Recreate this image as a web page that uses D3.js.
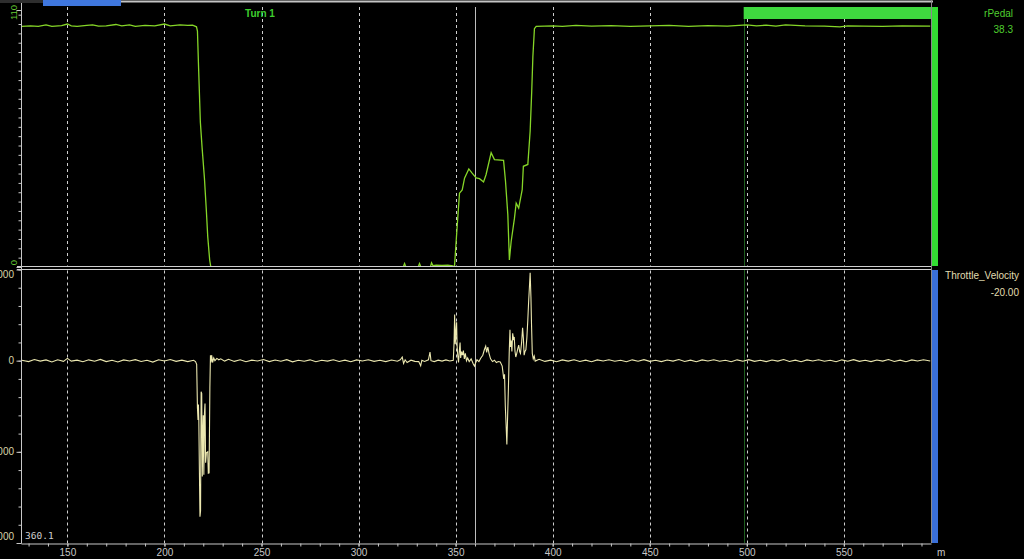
<!DOCTYPE html>
<html><head><meta charset="utf-8">
<script src="https://cdn.jsdelivr.net/npm/d3@7"></script>
<style>html,body{margin:0;padding:0;background:#000;overflow:hidden}</style>
</head><body><svg id="c" width="1024" height="559"></svg>
<script>
// ---- data ----
const xDomain = [126.1, 594.9];
const xMajorTicks = [150, 200, 250, 300, 350, 400, 450, 500, 550];
const xMinorTicks = d3.range(130, 595, 10);
const pedalDomain = [0, 110];
const pedalTickLabels = ["0", "110"];
const velDomain = [-2000, 1000];
const velTickValues = [1000, 0, -1000, -2000];
const velTickLabels = ["1000", "0", "-1000", "-2000"];
const cursorDistance = 360.1;
const turnStart = 498.4;
const turnLabel = "Turn 1";
const pedalName = "rPedal", pedalValue = "38.3";
const velName = "Throttle_Velocity", velValue = "-20.00";
const unitLabel = "m";

// rPedal [distance, value]
const pedal = [
 [126.5,103],[131,103.2],[135,103],[139,103.6],[142,103],[147,103.3],[150,104],[152,103.2],[155,103],[160,103.4],
 [163,103.6],[166,103.1],[170,103.2],[175,103.8],[178,103.2],[182,103.6],[185,103],[190,103.4],[195,103.2],[200,104],
 [203,103.2],[208,103.6],[212,103.4],[214.5,103.5],[216.5,102.8],[217,101],[217.6,85],[218.5,62],[219.4,51],[220.6,38],
 [221.6,24],[222.3,13],[223.3,3],[223.9,0],[240,0],[280,0],[323,0],[323.7,1.5],[324.4,0],[330.7,0],
 [331.4,1.5],[332.1,0],[337,0],[337.6,1.8],[338.3,0.6],[340,0.8],[343,0.7],[346,0.8],[348.5,0.5],[349.4,0],
 [350.6,15],[352,31.6],[353.4,33],[354.6,38],[356.8,42],[358.5,40.2],[360.6,38.1],[362.3,37.8],[364.4,36.4],[365.7,39.6],
 [368.3,48.9],[370,46],[374.7,45.6],[375.7,36.7],[376.9,22.3],[377.7,3],[378.6,10.8],[380.3,20.8],[381.2,27.3],[382.5,25.2],
 [384.3,33.1],[384.9,43.1],[387.2,43.9],[388.4,58.2],[389.2,75],[389.8,90],[390.6,102],[391.5,103],[400,103.2],[405,103],
 [412,103.4],[420,103.1],[430,103.3],[440,103],[450,103.2],[460,103.4],[470,103],[480,103.3],[490,103.1],[500,103.6],
 [505,103.2],[510,103.5],[515,103.1],[520,103.6],[530,103.2],[540,103.1],[548,102.8],[552,103.2],[560,103.1],[570,103],
 [580,103.2],[594.5,103.1]
];

// Throttle_Velocity [distance, value]
const velocity = [
 [126.5,5],[130,-10],[133,12],[136,-5],[139,8],[142,-15],[145,10],[148,-8],[150,25],[152,-5],
 [155,6],[158,-12],[161,9],[164,-6],[167,14],[170,-10],[173,4],[176,-14],[179,8],[182,-4],
 [185,11],[188,-9],[191,5],[194,-16],[197,10],[200,-3],[203,12],[206,-8],[209,6],[212,-10],
 [215,4],[216,-10],[216.6,-40],[217,-520],[217.3,-650],[217.5,-480],[217.7,-640],[218,-1200],[218.3,-1711],[218.6,-1650],
 [218.9,-340],[219.2,-360],[219.5,-1270],[219.8,-800],[220,-600],[220.3,-1250],[220.6,-580],[220.9,-470],[221.2,-1120],[221.6,-1010],
 [222.3,-1000],[222.6,-1234],[223,-1230],[223.4,-300],[223.7,60],[224,-20],[224.3,60],[224.8,-20],[225.4,30],[226,0],
 [227,25],[228,10],[229,20],[231,-5],[233,15],[236,-8],[239,10],[242,-12],[245,6],[248,-4],
 [251,12],[254,-10],[257,7],[260,-6],[263,11],[266,-13],[269,5],[272,-7],[275,9],[278,-11],
 [281,4],[284,-5],[287,10],[290,-9],[293,6],[296,-12],[299,8],[302,-4],[305,10],[308,-8],
 [311,5],[314,-10],[317,7],[320,-6],[321.5,10],[322.5,40],[323.2,-30],[324,10],[325,-20],[327,5],
 [329,-8],[331,-10],[332,-55],[332.6,5],[334,-8],[336,10],[336.8,95],[337.3,0],[339,-10],[341,6],
 [343,-5],[345,8],[347,-3],[348.8,5],[349.2,200],[349.5,505],[349.8,180],[350.2,330],[350.5,420],[350.8,150],
 [351.1,60],[351.5,-20],[352,130],[352.3,200],[352.6,30],[353,100],[353.5,60],[354,110],[354.5,20],[355,80],
 [355.6,0],[356.2,30],[357,-10],[358,20],[359,-30],[359.7,-60],[360.2,-30],[361,10],[362,-10],[363,30],
 [364,60],[364.8,120],[365.5,160],[366,90],[366.6,150],[367.2,80],[368,20],[369,-10],[370,5],[371,-20],
 [372,-10],[373,-15],[374,-60],[374.8,-200],[375.2,-150],[375.6,-500],[376,-700],[376.4,-920],[376.8,-600],[377.2,-300],
 [377.6,80],[378,340],[378.3,150],[378.6,220],[379,100],[379.4,300],[379.8,240],[380.2,260],[380.6,100],[381,40],
 [381.5,80],[382,130],[382.5,170],[383,100],[383.4,80],[384,200],[384.5,360],[384.9,250],[385.3,60],[385.7,100],
 [386.2,120],[386.7,250],[387.2,450],[387.6,640],[388,800],[388.4,964],[388.8,700],[389.1,400],[389.5,80],[390,20],
 [390.5,50],[391,-5],[393,15],[396,-8],[399,6],[402,-12],[405,8],[408,-5],[411,10],[414,-9],
 [417,6],[420,-11],[423,8],[426,-4],[429,10],[432,-7],[435,5],[438,-12],[441,9],[444,-6],
 [447,11],[450,-8],[453,4],[456,-10],[459,7],[462,-5],[465,12],[468,-9],[471,6],[474,-11],
 [477,8],[480,-4],[483,10],[486,-7],[489,5],[492,-12],[495,9],[498,-6],[501,11],[504,-8],
 [507,4],[510,-10],[513,7],[516,-5],[519,12],[522,-9],[525,6],[528,-11],[531,8],[534,-4],
 [537,10],[540,-7],[543,5],[546,-12],[549,9],[552,-6],[555,11],[558,-8],[561,4],[564,-10],
 [567,7],[570,-5],[573,12],[576,-9],[579,6],[582,-11],[585,8],[588,-4],[591,10],[594.5,-3]
];

// ---- layout ----
const svg = d3.select("#c");
const L = 21, R = 931;
const topY0 = 7, topY1 = 266.5, botY0 = 269.5, botY1 = 543;
const FONT = "'Liberation Sans', Arial, sans-serif";

const x = d3.scaleLinear().domain(xDomain).range([L, R]);
const yTop = d3.scaleLinear().domain(pedalDomain).range([267, 10]);
const yBot = d3.scaleLinear().domain(velDomain).range([botY1, botY0]);

svg.append("rect").attr("width",1024).attr("height",559).attr("fill","#000");

// top overview strip
svg.append("rect").attr("x",0).attr("y",0).attr("width",43).attr("height",3).attr("fill","#2e2e2e");
svg.append("rect").attr("x",63).attr("y",0.5).attr("width",870).attr("height",2).attr("fill","#c4c4c4");
svg.append("rect").attr("x",43).attr("y",0).attr("width",78).attr("height",6).attr("fill","#3f77de");

// grid lines
const grid = svg.append("g");
xMajorTicks.forEach(t => {
  [[topY0, topY1-1],[botY0+1, botY1]].forEach(([a,b]) => {
    grid.append("line").attr("x1",Math.round(x(t))+0.5).attr("x2",Math.round(x(t))+0.5)
      .attr("y1",a).attr("y2",b).attr("stroke","#cfcfcf").attr("stroke-width",1)
      .attr("stroke-dasharray","3,3");
  });
});

// turn marker
const tx = Math.round(x(turnStart))+0.5;
svg.append("line").attr("x1",tx).attr("x2",tx).attr("y1",topY0).attr("y2",botY1)
  .attr("stroke","#1e5e1e").attr("stroke-width",1);
svg.append("rect").attr("x",x(turnStart)).attr("y",7).attr("width",R - x(turnStart)).attr("height",12).attr("fill","#3fd83f");
svg.append("text").attr("x",260).attr("y",17).attr("text-anchor","middle")
  .attr("font-family",FONT).attr("font-size",10).attr("font-weight","bold").attr("fill","#3fcf2f").text(turnLabel);

// cursor
const cx = Math.round(x(cursorDistance))+0.5;
svg.append("line").attr("x1",cx).attr("x2",cx).attr("y1",topY0).attr("y2",botY1)
  .attr("stroke","#bdbdbd").attr("stroke-width",1);

// data lines
svg.append("clipPath").attr("id","ct").append("rect").attr("x",L).attr("y",topY0).attr("width",R-L).attr("height",topY1-topY0+2);
svg.append("clipPath").attr("id","cb").append("rect").attr("x",L).attr("y",botY0).attr("width",R-L).attr("height",botY1-botY0);
svg.append("path").datum(pedal).attr("clip-path","url(#ct)")
  .attr("d", d3.line().x(d=>x(d[0])).y(d=>yTop(d[1])))
  .attr("fill","none").attr("stroke","#86d628").attr("stroke-width",1.3);
svg.append("path").datum(velocity).attr("clip-path","url(#cb)")
  .attr("d", d3.line().x(d=>x(d[0])).y(d=>yBot(d[1])))
  .attr("fill","none").attr("stroke","#ece8b0").attr("stroke-width",1.1);

// panel separator (drawn over the zero line of the top trace)
svg.append("rect").attr("x",L+1).attr("y",266).attr("width",R-L-1).attr("height",4).attr("fill","#000");
[266.5, 269.5].forEach(yy => svg.append("line").attr("x1",17).attr("x2",R).attr("y1",yy).attr("y2",yy)
  .attr("stroke","#cfcfcf").attr("stroke-width",1));

// right border and side bars
svg.append("line").attr("x1",R+0.5).attr("x2",R+0.5).attr("y1",0).attr("y2",botY1).attr("stroke","#8a8a8a");
svg.append("rect").attr("x",932).attr("y",7).attr("width",6).attr("height",259).attr("fill","#33dd33");
svg.append("rect").attr("x",932).attr("y",270).attr("width",6).attr("height",273).attr("fill","#3a6fd8");

// left axes
svg.append("line").attr("x1",L+0.5).attr("x2",L+0.5).attr("y1",3).attr("y2",botY1).attr("stroke","#c8c8c8");
const leftTop = d3.axisLeft(yTop).tickValues(d3.range(0,111,4)).tickSize(3).tickFormat("").tickSizeOuter(0);
svg.append("g").attr("transform",`translate(${L+0.5},0)`).call(leftTop)
  .call(g=>{g.select(".domain").remove(); g.selectAll("line").attr("stroke","#c8c8c8");});
svg.append("g").attr("transform",`translate(${L+0.5},0)`)
  .call(d3.axisLeft(yTop).tickValues(pedalDomain).tickSize(5).tickFormat(""))
  .call(g=>{g.select(".domain").remove(); g.selectAll("line").attr("stroke","#c8c8c8");});
const leftBot = d3.axisLeft(yBot).tickValues(d3.range(-2000,1001,200)).tickSize(3).tickFormat("");
svg.append("g").attr("transform",`translate(${L+0.5},0)`).call(leftBot)
  .call(g=>{g.select(".domain").remove(); g.selectAll("line").attr("stroke","#c8c8c8");});
svg.append("g").attr("transform",`translate(${L+0.5},0)`)
  .call(d3.axisLeft(yBot).tickValues(velTickValues).tickSize(5).tickFormat(""))
  .call(g=>{g.select(".domain").remove(); g.selectAll("line").attr("stroke","#c8c8c8");});

// top labels (rotated)
[[pedalTickLabels[0], 262.5],[pedalTickLabels[1], 12.5]].forEach(([lab,yy]) => {
  svg.append("text").attr("transform",`translate(16.5,${yy}) rotate(-90)`).attr("text-anchor","middle")
    .attr("font-family",FONT).attr("font-size",9.5).attr("fill","#66cc33").text(lab);
});
// bottom labels
const botLabelY = [278, 364, 455, 540];
velTickLabels.forEach((lab,i) => {
  svg.append("text").attr("x",14).attr("y",botLabelY[i]).attr("text-anchor","end")
    .attr("font-family",FONT).attr("font-size",10).attr("fill","#d8d4a8").text(lab);
});

// x axis
svg.append("g").attr("transform",`translate(0,${botY1+0.5})`)
  .call(d3.axisBottom(x).tickValues(xMinorTicks).tickSize(3).tickFormat("").tickSizeOuter(0))
  .call(g=>{g.selectAll("line,path").attr("stroke","#c8c8c8");});
svg.append("line").attr("x1",17).attr("x2",L).attr("y1",botY1+0.5).attr("y2",botY1+0.5).attr("stroke","#c8c8c8");
svg.append("g").attr("transform",`translate(0,${botY1+0.5})`)
  .call(d3.axisBottom(x).tickValues(xMajorTicks).tickSize(3).tickPadding(2))
  .call(g=>{g.select(".domain").remove(); g.selectAll("line").attr("stroke","#c8c8c8");
    g.selectAll("text").attr("font-family",FONT).attr("font-size",10).attr("fill","#c8c8c8");});
svg.append("text").attr("x",937).attr("y",556).attr("font-family",FONT).attr("font-size",10).attr("fill","#c8c8c8").text(unitLabel);

// cursor value
svg.append("text").attr("x",25).attr("y",539).attr("font-family","'DejaVu Sans Mono', monospace").attr("font-size",9.5)
  .attr("fill","#cfcfcf").text(cursorDistance.toFixed(1));

// channel names
svg.append("text").attr("x",1013).attr("y",17).attr("text-anchor","end").attr("font-family",FONT).attr("font-size",10).attr("fill","#4fcf2f").text(pedalName);
svg.append("text").attr("x",1013).attr("y",33).attr("text-anchor","end").attr("font-family",FONT).attr("font-size",10).attr("fill","#4fcf2f").text(pedalValue);
svg.append("text").attr("x",1019).attr("y",279).attr("text-anchor","end").attr("font-family",FONT).attr("font-size",10).attr("fill","#e0dcb0").text(velName);
svg.append("text").attr("x",1019).attr("y",296).attr("text-anchor","end").attr("font-family",FONT).attr("font-size",10).attr("fill","#e0dcb0").text(velValue);
</script>
</body></html>
